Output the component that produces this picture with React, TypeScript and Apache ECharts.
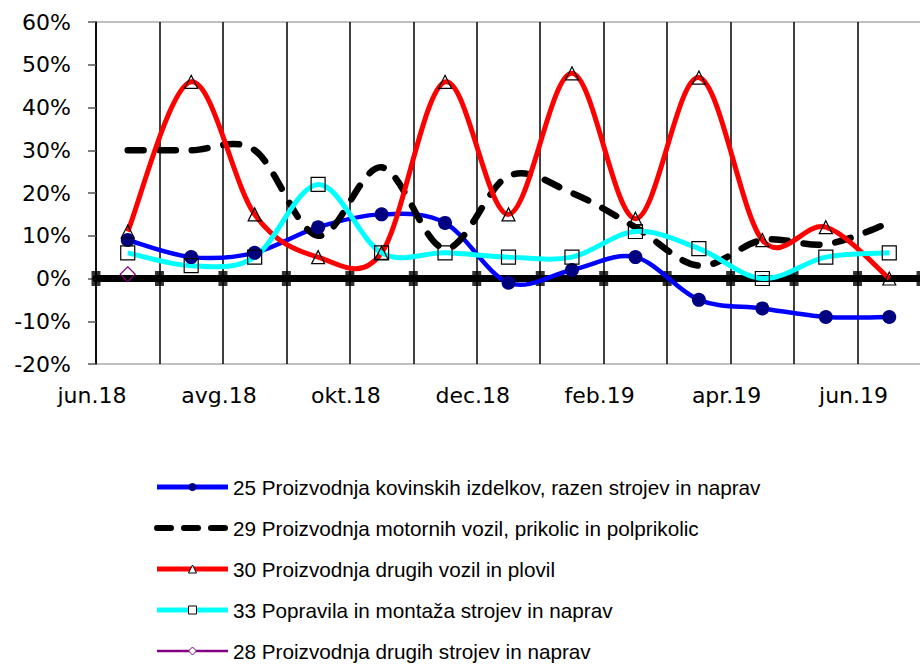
import React, { useEffect, useRef } from "react";
import * as echarts from "echarts";

const months = [
  "jun.18", "jul.18", "avg.18", "sep.18", "okt.18", "nov.18", "dec.18",
  "jan.19", "feb.19", "mar.19", "apr.19", "maj.19", "jun.19",
];

const seriesNames = [
  "25 Proizvodnja kovinskih izdelkov, razen strojev in naprav",
  "29 Proizvodnja motornih vozil, prikolic in polprikolic",
  "30 Proizvodnja drugih vozil in plovil",
  "33 Popravila in montaža strojev in naprav",
  "28 Proizvodnja drugih strojev in naprav",
];

const s25 = [9, 5, 6, 12, 15, 13, -1, 2, 5, -5, -7, -9, -9];
const s29 = [30, 30, 30, 10, 26, 7, 24, 20, 12, 3, 9, 8, 13];
const s30 = [11, 46, 15, 5, 6, 46, 15, 48, 14, 47, 9, 12, 0];
const s33 = [6, 3, 5, 22, 6, 6, 5, 5, 11, 7, 0, 5, 6];
const s28: (number | null)[] = [1, null, null, null, null, null, null, null, null, null, null, null, null];

const yMin = -20;
const yMax = 60;
const yStep = 10;
const labelEvery = 2;

const AXIS_FONT = "DejaVu Sans";
const LEGEND_FONT = "Liberation Sans";

// Excel-like smoothed curve (Catmull-Rom Bezier in pixel space) drawn through the axis scales
function smoothCurveSeries(
  id: string,
  values: (number | null)[],
  style: any,
  z: number
) {
  return {
    name: id,
    type: "custom",
    xAxisIndex: 0,
    yAxisIndex: 0,
    z,
    silent: true,
    data: values.map((v, i) => [i, v == null ? 0 : v]),
    renderItem: (params: any, api: any) => {
      if (params.dataIndex !== 0) return { type: "group", children: [] };
      const runs: number[][][] = [];
      let cur: number[][] = [];
      values.forEach((v, i) => {
        if (v == null) {
          if (cur.length) runs.push(cur);
          cur = [];
        } else {
          cur.push(api.coord([i, v]));
        }
      });
      if (cur.length) runs.push(cur);
      let d = "";
      runs.forEach((pts) => {
        if (pts.length < 2) return;
        d += `M${pts[0][0]},${pts[0][1]}`;
        for (let i = 0; i < pts.length - 1; i++) {
          const p0 = pts[i - 1] || pts[i];
          const p1 = pts[i];
          const p2 = pts[i + 1];
          const p3 = pts[i + 2] || pts[i + 1];
          const c1x = p1[0] + (p2[0] - p0[0]) / 6;
          const c1y = p1[1] + (p2[1] - p0[1]) / 6;
          const c2x = p2[0] - (p3[0] - p1[0]) / 6;
          const c2y = p2[1] - (p3[1] - p1[1]) / 6;
          d += `C${c1x},${c1y},${c2x},${c2y},${p2[0]},${p2[1]}`;
        }
      });
      if (!d) return { type: "group", children: [] };
      return {
        type: "path",
        shape: { pathData: d },
        style: { fill: "none", ...style },
      };
    },
  };
}

export default function App() {
  const ref = useRef<HTMLDivElement>(null);

  useEffect(() => {
    if (!ref.current) return;
    const chart = echarts.init(ref.current, undefined, { renderer: "svg" });

    const boundaries = months.map((_, i) => [i, 0]).concat([[months.length, 0]]);

    const option: any = {
      animation: false,
      backgroundColor: "#ffffff",
      grid: {
        left: 96,
        right: 2,
        top: 22,
        bottom: 336,
        show: true,
        borderColor: "#c0c0c0",
        borderWidth: 2,
        backgroundColor: "transparent",
      },
      xAxis: [
        {
          type: "category",
          data: months,
          boundaryGap: true,
          position: "bottom",
          axisLine: { show: true, onZero: true, lineStyle: { color: "#000", width: 7 } },
          axisTick: { show: false },
          axisLabel: { show: false },
          splitLine: { show: false },
        },
        {
          type: "value",
          min: 0,
          max: months.length,
          interval: 1,
          position: "bottom",
          axisLine: { show: false, onZero: false },
          axisTick: { show: false },
          splitLine: { show: true, lineStyle: { color: "#000", width: 1.5 } },
          axisLabel: {
            show: true,
            margin: 20,
            color: "#000",
            fontFamily: AXIS_FONT,
            fontSize: 22,
            padding: [0, 8, 0, 0],
            formatter: (v: number) =>
              v % labelEvery === 0 && v < months.length ? months[v] : "",
          },
        },
      ],
      yAxis: {
        type: "value",
        min: yMin,
        max: yMax,
        interval: yStep,
        axisLine: { show: true, onZero: false, lineStyle: { color: "#000", width: 1.5 } },
        axisTick: { show: true, length: 8, lineStyle: { color: "#555", width: 1.5 } },
        splitLine: { show: false },
        axisLabel: {
          color: "#000",
          fontFamily: AXIS_FONT,
          fontSize: 22,
          margin: 25,
          formatter: "{value}%",
        },
      },
      legend: {
        orient: "vertical",
        left: 154,
        top: 475,
        padding: 0,
        itemWidth: 71,
        itemHeight: 10,
        itemGap: 17,
        textStyle: {
          color: "#000",
          fontFamily: LEGEND_FONT,
          fontSize: 20.7,
          lineHeight: 24,
        },
        data: [
          {
            name: seriesNames[0],
            lineStyle: { width: 5, opacity: 1 },
            itemStyle: { color: "#000080", opacity: 1 },
          },
          {
            name: seriesNames[1],
            lineStyle: { width: 6, type: [14, 13], cap: "round", opacity: 1 },
            itemStyle: { opacity: 0, color: "transparent", borderWidth: 0 },
          },
          {
            name: seriesNames[2],
            lineStyle: { width: 5, opacity: 1 },
            itemStyle: { color: "#fff", borderColor: "#000", borderWidth: 1, opacity: 1 },
          },
          {
            name: seriesNames[3],
            lineStyle: { width: 5, opacity: 1 },
            itemStyle: { color: "#fff", borderColor: "#000", borderWidth: 1, opacity: 1 },
          },
          {
            name: seriesNames[4],
            lineStyle: { width: 2.5, opacity: 1 },
            itemStyle: { color: "#fff", borderColor: "#800080", borderWidth: 1, opacity: 1 },
          },
        ],
      },
      series: [
        {
          name: seriesNames[0],
          type: "line",
          data: s25,
          symbol: "circle",
          symbolSize: 14,
          showAllSymbol: true,
          z: 5,
          lineStyle: { color: "#0000FF", width: 0, opacity: 0 },
          itemStyle: { color: "#000080" },
        },
        {
          name: seriesNames[1],
          type: "line",
          data: s29,
          symbol: "none",
          z: 5,
          lineStyle: { color: "#000", width: 0, opacity: 0 },
          itemStyle: { color: "#000" },
        },
        {
          name: seriesNames[2],
          type: "line",
          data: s30,
          symbol: "triangle",
          symbolSize: 13,
          showAllSymbol: true,
          z: 5,
          lineStyle: { color: "#FF0000", width: 0, opacity: 0 },
          itemStyle: { color: "transparent", borderColor: "#000", borderWidth: 1.2 },
        },
        {
          name: seriesNames[3],
          type: "line",
          data: s33,
          symbol: "rect",
          symbolSize: 14,
          showAllSymbol: true,
          z: 5,
          lineStyle: { color: "#00FFFF", width: 0, opacity: 0 },
          itemStyle: { color: "transparent", borderColor: "#000", borderWidth: 1.2 },
        },
        {
          name: seriesNames[4],
          type: "line",
          data: s28,
          symbol: "diamond",
          symbolSize: 15,
          showAllSymbol: true,
          z: 5,
          lineStyle: { color: "#800080", width: 0, opacity: 0 },
          itemStyle: { color: "transparent", borderColor: "#800080", borderWidth: 1.2 },
        },
        {
          name: "zero-ticks",
          type: "scatter",
          xAxisIndex: 1,
          data: boundaries,
          symbol: "rect",
          symbolSize: [9, 15],
          itemStyle: { color: "#000" },
          silent: true,
          z: 1,
        },
        smoothCurveSeries("curve-25", s25, { stroke: "#0000FF", lineWidth: 4.5 }, 2),
        smoothCurveSeries(
          "curve-29",
          s29,
          { stroke: "#000", lineWidth: 6.5, lineDash: [16, 16], lineCap: "round" },
          2
        ),
        smoothCurveSeries("curve-30", s30, { stroke: "#FF0000", lineWidth: 5 }, 2),
        smoothCurveSeries("curve-33", s33, { stroke: "#00FFFF", lineWidth: 5 }, 2),
        smoothCurveSeries("curve-28", s28, { stroke: "#800080", lineWidth: 2.5 }, 2),
      ],
    };

    chart.setOption(option);
    return () => chart.dispose();
  }, []);

  return (
    <div
      style={{
        position: "absolute",
        left: 0,
        top: 0,
        width: 920,
        height: 664,
        overflow: "hidden",
        background: "#fff",
      }}
    >
      <div ref={ref} style={{ width: 924, height: 700 }} />
    </div>
  );
}
